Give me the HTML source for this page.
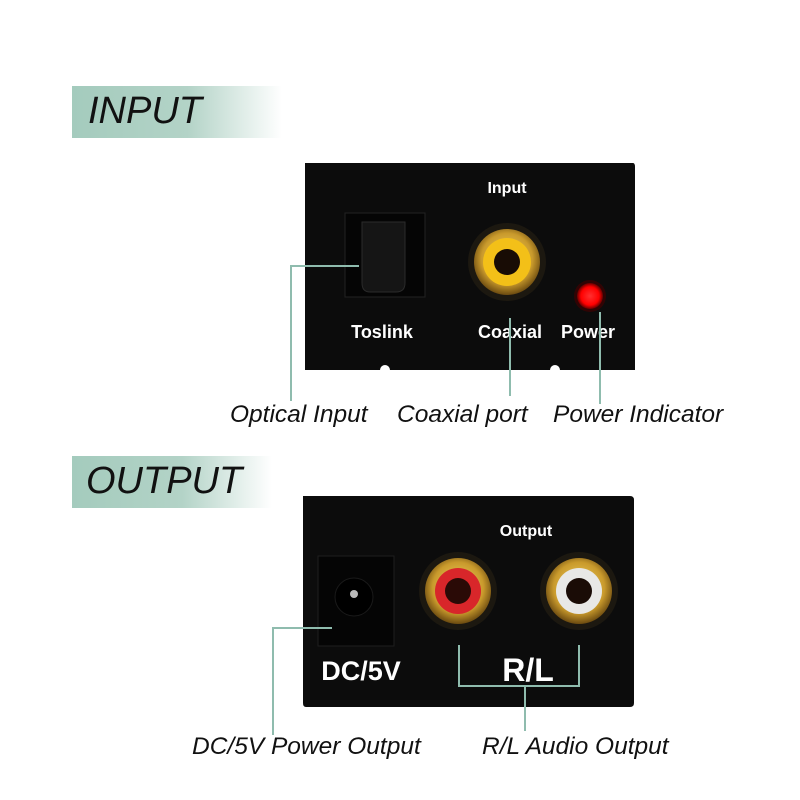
<!DOCTYPE html>
<html><head><style>
html,body{margin:0;padding:0;background:#fff;}
body{width:800px;height:800px;position:relative;overflow:hidden;font-family:"Liberation Sans",sans-serif;}
.ban{position:absolute;left:72px;height:52px;background:linear-gradient(90deg,#a4cbbd 0%,#b3d3c7 55%,#fff 100%);}
.bt{position:absolute;font-style:italic;font-size:38px;color:#111;}
.cap{position:absolute;font-style:italic;font-size:24.5px;color:#111;white-space:nowrap;}
.w{position:absolute;color:#fff;font-weight:bold;white-space:nowrap;transform:translateX(-50%);}
.l{position:absolute;background:#8fbcae;}
</style></head><body>
<div class="ban" style="top:86px;width:210px"></div>
<div class="bt" style="left:88px;top:90px">INPUT</div>
<div class="ban" style="top:456px;width:200px"></div>
<div class="bt" style="left:86px;top:460px">OUTPUT</div>

<svg width="800" height="800" style="position:absolute;left:0;top:0">
<defs>
<radialGradient id="g" cx="50%" cy="45%" r="55%"><stop offset="0" stop-color="#f5d86a"/><stop offset=".7" stop-color="#c99a2c"/><stop offset="1" stop-color="#6b4a10"/></radialGradient>
<radialGradient id="led" cx="50%" cy="50%" r="50%"><stop offset="0" stop-color="#ff3030"/><stop offset=".7" stop-color="#f00"/><stop offset="1" stop-color="#600"/></radialGradient>
</defs>
<path d="M305 163 H633 Q635 163 635 167 V370 H560 A5 5 0 0 0 550 370 H390 A5 5 0 0 0 380 370 H305 Z" fill="#0c0c0c"/>
<rect x="345" y="213" width="80" height="84" fill="#050505" stroke="#222"/>
<path d="M362 222 H405 V283 Q405 292 396 292 H370 Q362 292 362 283 Z" fill="#151515" stroke="#2a2a2a"/>
<circle cx="507" cy="262" r="39" fill="#1c1810"/>
<circle cx="507" cy="262" r="33" fill="url(#g)"/>
<circle cx="507" cy="262" r="24" fill="#f3c018"/>
<circle cx="507" cy="262" r="13" fill="#180c05"/>
<circle cx="590" cy="296" r="16" fill="#4a0000" opacity=".6"/>
<circle cx="590" cy="296" r="13" fill="url(#led)"/>
<path d="M303 496 H630 Q634 496 634 500 V703 Q634 707 630 707 H306 Q303 707 303 703 Z" fill="#0c0c0c"/>
<rect x="318" y="556" width="76" height="90" fill="#050505" stroke="#1e1e1e"/>
<circle cx="354" cy="597" r="19" fill="#000" stroke="#1a1a1a"/>
<circle cx="354" cy="594" r="4" fill="#bbb"/>
<circle cx="458" cy="591" r="39" fill="#1c1810"/>
<circle cx="458" cy="591" r="33" fill="url(#g)"/>
<circle cx="458" cy="591" r="23" fill="#d8262a"/>
<circle cx="458" cy="591" r="13" fill="#2a0a06"/>
<circle cx="579" cy="591" r="39" fill="#1c1810"/>
<circle cx="579" cy="591" r="33" fill="url(#g)"/>
<circle cx="579" cy="591" r="23" fill="#e8e8e6"/>
<circle cx="579" cy="591" r="13" fill="#1a0c06"/>
</svg>

<div class="w" style="left:507px;top:180px;font-size:16px">Input</div>
<div class="w" style="left:382px;top:322px;font-size:18px">Toslink</div>
<div class="w" style="left:510px;top:322px;font-size:18px">Coaxial</div>
<div class="w" style="left:588px;top:322px;font-size:18px">Power</div>
<div class="w" style="left:526px;top:523px;font-size:16px">Output</div>
<div class="w" style="left:361px;top:656px;font-size:27px">DC/5V</div>
<div class="w" style="left:528px;top:652px;font-size:32px">R/L</div>

<div class="l" style="left:290px;top:265px;width:69px;height:2px"></div>
<div class="l" style="left:290px;top:265px;width:2px;height:136px"></div>
<div class="l" style="left:509px;top:318px;width:2px;height:78px"></div>
<div class="l" style="left:599px;top:312px;width:2px;height:92px"></div>

<div class="l" style="left:272px;top:627px;width:60px;height:2px"></div>
<div class="l" style="left:272px;top:627px;width:2px;height:108px"></div>
<div class="l" style="left:458px;top:645px;width:2px;height:42px"></div>
<div class="l" style="left:578px;top:645px;width:2px;height:42px"></div>
<div class="l" style="left:458px;top:685px;width:122px;height:2px"></div>
<div class="l" style="left:524px;top:685px;width:2px;height:46px"></div>

<div class="cap" style="left:230px;top:401px">Optical Input</div>
<div class="cap" style="left:397px;top:401px">Coaxial port</div>
<div class="cap" style="left:553px;top:401px">Power Indicator</div>
<div class="cap" style="left:192px;top:733px">DC/5V Power Output</div>
<div class="cap" style="left:482px;top:733px">R/L Audio Output</div>
</body></html>
